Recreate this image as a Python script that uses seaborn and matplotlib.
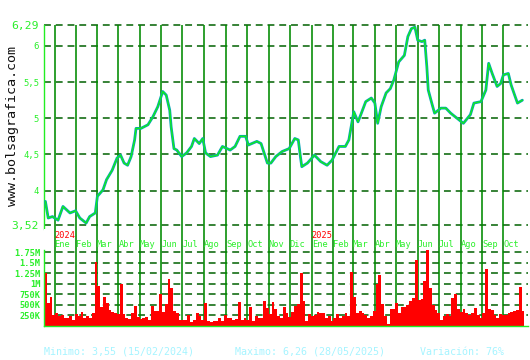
import matplotlib
matplotlib.use("Agg")
import matplotlib.pyplot as plt
import seaborn as sns
import pandas as pd
import numpy as np

# ---------------- data ----------------
price_dates = [
    "2023-12-19", "2023-12-23", "2023-12-29", "2024-01-06", "2024-01-13", "2024-01-23",
    "2024-01-31", "2024-02-06", "2024-02-15", "2024-02-20", "2024-02-28", "2024-03-02",
    "2024-03-10", "2024-03-15", "2024-03-23", "2024-03-30", "2024-04-04", "2024-04-09",
    "2024-04-14", "2024-04-19", "2024-04-24", "2024-04-26", "2024-05-03", "2024-05-13",
    "2024-05-20", "2024-05-27", "2024-06-03", "2024-06-08", "2024-06-13", "2024-06-15",
    "2024-06-19", "2024-06-23", "2024-06-30", "2024-07-07", "2024-07-14", "2024-07-18",
    "2024-07-25", "2024-07-30", "2024-08-03", "2024-08-10", "2024-08-20", "2024-08-27",
    "2024-09-07", "2024-09-14", "2024-09-21", "2024-09-29", "2024-10-03", "2024-10-15",
    "2024-10-21", "2024-10-26", "2024-10-30", "2024-11-04", "2024-11-11", "2024-11-20",
    "2024-11-30", "2024-12-08", "2024-12-13", "2024-12-16", "2024-12-18", "2024-12-26",
    "2025-01-05", "2025-01-14", "2025-01-23", "2025-01-30", "2025-02-09", "2025-02-18",
    "2025-02-23", "2025-02-28", "2025-03-02", "2025-03-08", "2025-03-12", "2025-03-19",
    "2025-03-27", "2025-04-01", "2025-04-05", "2025-04-10", "2025-04-17", "2025-04-23",
    "2025-04-28", "2025-05-05", "2025-05-13", "2025-05-18", "2025-05-23", "2025-05-28",
    "2025-06-01", "2025-06-07", "2025-06-11", "2025-06-14", "2025-06-16", "2025-06-21",
    "2025-06-25", "2025-07-04", "2025-07-11", "2025-07-18", "2025-07-27", "2025-08-05",
    "2025-08-15", "2025-08-20", "2025-08-30", "2025-09-06", "2025-09-10", "2025-09-15",
    "2025-09-22", "2025-09-27", "2025-10-01", "2025-10-08", "2025-10-12", "2025-10-17",
    "2025-10-21", "2025-10-28",
]
price_close = [
    3.85, 3.62, 3.64, 3.59, 3.78, 3.69,
    3.72, 3.62, 3.55, 3.64, 3.69, 3.92,
    4.01, 4.15, 4.28, 4.45, 4.49, 4.38,
    4.35, 4.47, 4.70, 4.86, 4.86, 4.91,
    5.02, 5.16, 5.37, 5.32, 5.11, 4.88,
    4.58, 4.56, 4.47, 4.52, 4.61, 4.72,
    4.65, 4.72, 4.52, 4.47, 4.49, 4.61,
    4.56, 4.61, 4.75, 4.75, 4.63, 4.68,
    4.65, 4.50, 4.38, 4.38, 4.47, 4.54,
    4.58, 4.72, 4.70, 4.47, 4.33, 4.38,
    4.49, 4.40, 4.35, 4.42, 4.61, 4.61,
    4.70, 4.98, 5.09, 4.95, 5.05, 5.23,
    5.28, 5.21, 4.93, 5.16, 5.35, 5.41,
    5.53, 5.78, 5.87, 6.13, 6.24, 6.26,
    6.08, 6.06, 6.08, 5.71, 5.39, 5.21,
    5.07, 5.14, 5.14, 5.07, 5.00, 4.93,
    5.05, 5.21, 5.23, 5.39, 5.76, 5.62,
    5.44, 5.48, 5.60, 5.62, 5.46, 5.32,
    5.21, 5.25,
]

# volume (thousands of shares), one value every 4 days from 2023-12-19
vol_start = "2023-12-19"
vol_k = [
    1250, 550, 700, 250, 320, 240, 250, 200, 200, 240,
    150, 280, 240, 340, 200, 240, 200, 300, 1515, 950,
    460, 700, 550, 380, 330, 320, 290, 990, 280, 200,
    160, 320, 480, 220, 160, 200, 220, 150, 480, 360,
    350, 750, 330, 520, 1128, 900, 360, 300, 150, 150,
    140, 250, 100, 150, 300, 240, 150, 540, 110, 100,
    120, 110, 200, 120, 250, 200, 180, 150, 160, 580,
    150, 200, 150, 440, 120, 230, 180, 200, 600, 420,
    290, 563, 400, 240, 200, 450, 300, 220, 330, 480,
    520, 1250, 600, 130, 290, 230, 250, 340, 300, 320,
    200, 240, 130, 180, 280, 200, 240, 300, 240, 1290,
    700, 300, 350, 320, 260, 200, 240, 360, 990, 1207,
    520, 240, 40, 400, 400, 540, 320, 440, 450, 500,
    600, 660, 1570, 620, 640, 1063, 1810, 900, 500, 380,
    320, 150, 240, 280, 240, 660, 765, 400, 340, 400,
    300, 260, 300, 420, 250, 200, 300, 1345, 400, 380,
    250, 200, 290, 250, 260, 320, 330, 350, 380, 920,
    360,
]

price_ticks = [3.52, 4, 4.5, 5, 5.5, 6, 6.29]
price_tick_labels = ["3,52", "4", "4,5", "5", "5,5", "6", "6,29"]
vol_ticks = [250e3, 500e3, 750e3, 1e6, 1.25e6, 1.5e6, 1.75e6]
vol_tick_labels = ["250K", "500K", "750K", "1M", "1.25M", "1.5M", "1.75M"]
month_labels = ["Ene", "Feb", "Mar", "Abr", "May", "Jun", "Jul", "Ago", "Sep", "Oct",
                "Nov", "Dic", "Ene", "Feb", "Mar", "Abr", "May", "Jun", "Jul", "Ago",
                "Sep", "Oct"]
month_starts = pd.date_range("2024-01-01", "2025-10-01", freq="MS")
year_labels = {"2024": "2024-01-01", "2025": "2025-01-01"}
footer = [("Minimo: 3,55 (15/02/2024)", 44), ("Maximo: 6,26 (28/05/2025)", 235),
          ("Variación: 76%", 420)]

# ---------------- style ----------------
TEAL = "#05a3b5"
LGREEN = "#14f014"
TXTGREEN = "#2bef2b"
SPINE = "#22ee22"
MONTH = "#008a00"
DASH = "#006000"
CYAN = "#a6f4ff"

sns.set_theme(style="white")
plt.rcParams["font.family"] = ["DejaVu Sans Mono", "DejaVu Sans"]

W, H = 530, 360
fig = plt.figure(figsize=(W / 100, H / 100), dpi=100)
fig.patch.set_facecolor("white")


def rect(x0, y0, x1, y1):
    return [x0 / W, 1 - y1 / H, (x1 - x0) / W, (y1 - y0) / H]


ax_p = fig.add_axes(rect(44, 25, 528, 229))
ax_m = fig.add_axes(rect(44, 229, 528, 250), sharex=ax_p)
ax_v = fig.add_axes(rect(44, 250, 528, 326), sharex=ax_p)

xmin, xmax = pd.Timestamp("2023-12-17"), pd.Timestamp("2025-11-05")

# month lines
for ax in (ax_p, ax_m, ax_v):
    ax.set_facecolor("white")
    for d in month_starts:
        ax.axvline(d, color=MONTH, lw=1.15, zorder=1)
    for s in ax.spines.values():
        s.set_visible(False)
    ax.tick_params(axis="x", length=0, labelbottom=False)
    ax.grid(False)

# price
dfp = pd.DataFrame({"fecha": pd.to_datetime(price_dates), "cierre": price_close})
for hv in price_ticks:
    ax_p.axhline(hv, color=DASH, lw=1.1, dashes=(4.5, 3.2), zorder=0.8, clip_on=False)
sns.lineplot(data=dfp, x="fecha", y="cierre", ax=ax_p, color=TEAL, lw=2.0,
             estimator=None, zorder=3)
sns.lineplot(data=dfp, x="fecha", y="cierre", ax=ax_p, color=LGREEN, lw=0.9,
             estimator=None, zorder=4)
ax_p.set_xlim(xmin, xmax)
ax_p.set_ylim(3.468, 6.29)
ax_p.set_yticks(price_ticks)
ax_p.set_yticklabels(price_tick_labels)
ax_p.tick_params(axis="y", length=0, pad=3.5, colors=TXTGREEN)
for i, t in enumerate(ax_p.get_yticklabels()):
    t.set_fontsize(8.2 if i in (0, len(price_ticks) - 1) else 6.4)
ax_p.spines["left"].set_visible(True)
ax_p.spines["left"].set_color(SPINE)
ax_p.spines["left"].set_linewidth(1.0)
ax_p.set_xlabel("")
ax_p.set_ylabel("")

# middle band: month and year labels
ax_m.set_yticks([])
ax_m.set_ylim(0, 1)
for d, lab in zip(month_starts, month_labels):
    ax_m.text(d, 0.28, lab, transform=ax_m.get_xaxis_transform(), ha="left",
              va="center", fontsize=6.2, color=TXTGREEN)
for lab, d in year_labels.items():
    ax_m.text(pd.Timestamp(d), 0.67, lab, transform=ax_m.get_xaxis_transform(),
              ha="left", va="center", fontsize=6.2, color="#ff0000")

# volume
vol_dates = pd.date_range(vol_start, periods=len(vol_k), freq="4D")
for hv in vol_ticks:
    ax_v.axhline(hv, color=DASH, lw=1.1, dashes=(4.5, 3.2), zorder=0.8)
ax_v.bar(vol_dates, np.array(vol_k) * 1000.0, width=4, color="#ff0000",
         linewidth=0, zorder=2)
ax_v.set_ylim(0, 1.805e6)
ax_v.set_yticks(vol_ticks)
ax_v.set_yticklabels(vol_tick_labels)
ax_v.tick_params(axis="y", length=0, pad=2.5, colors=TXTGREEN, labelsize=6.2)
for t in ax_v.get_yticklabels():
    t.set_fontweight("bold")
for side in ("left", "bottom"):
    ax_v.spines[side].set_visible(True)
    ax_v.spines[side].set_color(SPINE)
    ax_v.spines[side].set_linewidth(1.0)
ax_v.set_xlim(xmin, xmax)

# side watermark and footer
fig.text(12.5 / W, 1 - 126.5 / H, "www.bolsagrafica.com", rotation=90, ha="center",
         va="center", fontsize=9.6, color="#111111")
for txt, xp in footer:
    fig.text(xp / W, 1 - 352 / H, txt, ha="left", va="center", fontsize=7.2, color=CYAN)

fig.savefig("out.png", dpi=100)
